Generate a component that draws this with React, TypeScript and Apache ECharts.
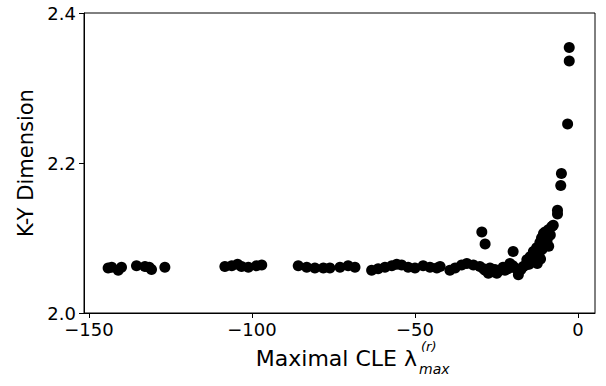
import React, { useEffect, useRef } from "react";
import * as echarts from "echarts";

const xValues: number[] = [
  -144.1, -143.0, -141.0, -140.0, -135.4, -132.8, -131.5, -130.8, -126.7,
  -108.3, -106.2, -104.4, -103.2, -101.1, -98.6, -97.0,
  -85.8, -83.2, -80.7, -78.1, -76.1, -73.0, -70.5, -68.4,
  -63.3, -61.3, -59.2, -57.1, -55.6, -54.1, -52.1, -50.0, -47.5, -45.4, -43.3,
  -42.3, -39.3, -37.7, -35.7, -34.1, -32.1, -30.1, -29.5, -28.5, -28.5, -27.5,
  -26.0, -24.9, -23.9, -22.4, -20.9, -19.9, -18.3, -19.3, -16.8, -15.7, -14.7,
  -13.7, -12.7, -11.7, -11.2, -10.6, -10.1, -9.1, -8.1, -7.6, -6.3, -6.3, -5.3,
  -5.1, -3.2, -2.7, -2.7,
  -29.0, -27.0, -25.5, -23.0, -21.5, -20.0, -15.0, -14.0, -13.0, -12.0, -11.0,
  -10.5, -9.5, -8.5, -12.5, -11.5, -9.0, -17.5, -16.0,
];
const yValues: number[] = [
  2.060, 2.061, 2.057, 2.061, 2.063, 2.062, 2.061, 2.058, 2.061,
  2.062, 2.063, 2.065, 2.062, 2.061, 2.063, 2.064,
  2.063, 2.061, 2.060, 2.060, 2.060, 2.061, 2.063, 2.061,
  2.057, 2.059, 2.061, 2.063, 2.065, 2.064, 2.061, 2.060, 2.063, 2.061, 2.060,
  2.062, 2.057, 2.060, 2.064, 2.066, 2.064, 2.062, 2.108, 2.092, 2.057, 2.053,
  2.055, 2.053, 2.057, 2.057, 2.066, 2.082, 2.051, 2.060, 2.062, 2.071, 2.075,
  2.082, 2.087, 2.094, 2.100, 2.106, 2.108, 2.111, 2.115, 2.117, 2.137, 2.132, 2.170,
  2.186, 2.252, 2.336, 2.354,
  2.059, 2.060, 2.058, 2.061, 2.059, 2.063, 2.065, 2.069, 2.073, 2.078, 2.085,
  2.090, 2.097, 2.104, 2.066, 2.072, 2.089, 2.058, 2.064,
];
const xTicks: number[] = [-150, -100, -50, 0];
const yTicks: number[] = [2.0, 2.2, 2.4];

const FONT = "DejaVu Sans";

export default function App() {
  const ref = useRef<HTMLDivElement>(null);
  useEffect(() => {
    if (!ref.current) return;
    const chart = echarts.init(ref.current, null, { renderer: "svg" });
    const data = xValues.map((x, i) => [x, yValues[i]]);
    chart.setOption({
      animation: false,
      backgroundColor: "#ffffff",
      grid: {
        left: 84,
        right: 11,
        top: 13,
        bottom: 73,
        show: true,
        borderColor: "#000",
        borderWidth: 1,
        containLabel: false,
      },
      xAxis: {
        type: "value",
        min: -151.5,
        max: 5.2,
        splitLine: { show: false },
        axisLine: { show: true, onZero: false, lineStyle: { color: "#000", width: 1 } },
        axisTick: {
          show: true,
          length: 5,
          inside: false,
          customValues: xTicks,
          lineStyle: { color: "#000", width: 1 },
        },
        axisLabel: {
          customValues: xTicks,
          color: "#000",
          fontFamily: FONT,
          fontSize: 18,
          margin: 7,
          formatter: (v: number) => (v < 0 ? "\u2212" + Math.abs(v) : String(v)),
        },
      },
      yAxis: {
        type: "value",
        min: 2.0,
        max: 2.4,
        interval: 0.2,
        splitLine: { show: false },
        axisLine: { show: true, onZero: false, lineStyle: { color: "#000", width: 1 } },
        axisTick: {
          show: true,
          length: 5,
          customValues: yTicks,
          lineStyle: { color: "#000", width: 1 },
        },
        axisLabel: {
          customValues: yTicks,
          color: "#000",
          fontFamily: FONT,
          fontSize: 18,
          margin: 8,
          formatter: (v: number) => v.toFixed(1),
        },
        name: "K-Y Dimension",
        nameLocation: "middle",
        nameRotate: 90,
        nameGap: 48,
        nameTextStyle: { color: "#000", fontFamily: FONT, fontSize: 21 },
      },
      graphic: [
        {
          type: "text",
          x: 417,
          y: 358,
          style: {
            text: "Maximal CLE \u03bb",
            fill: "#000",
            font: `22px '${FONT}'`,
            textAlign: "right",
            textVerticalAlign: "middle",
          },
        },
        {
          type: "text",
          x: 421,
          y: 346,
          style: {
            text: "(r)",
            fill: "#000",
            font: `italic 13px '${FONT}'`,
            textAlign: "left",
            textVerticalAlign: "middle",
          },
        },
        {
          type: "text",
          x: 419,
          y: 369,
          style: {
            text: "max",
            fill: "#000",
            font: `italic 14px '${FONT}'`,
            textAlign: "left",
            textVerticalAlign: "middle",
          },
        },
      ],
      series: [
        {
          type: "scatter",
          data,
          symbol: "circle",
          symbolSize: 11,
          itemStyle: { color: "#000", opacity: 1 },
        },
      ],
    });
    return () => chart.dispose();
  }, []);
  return <div ref={ref} style={{ width: 606, height: 386, position: "absolute", left: 0, top: 0 }} />;
}
